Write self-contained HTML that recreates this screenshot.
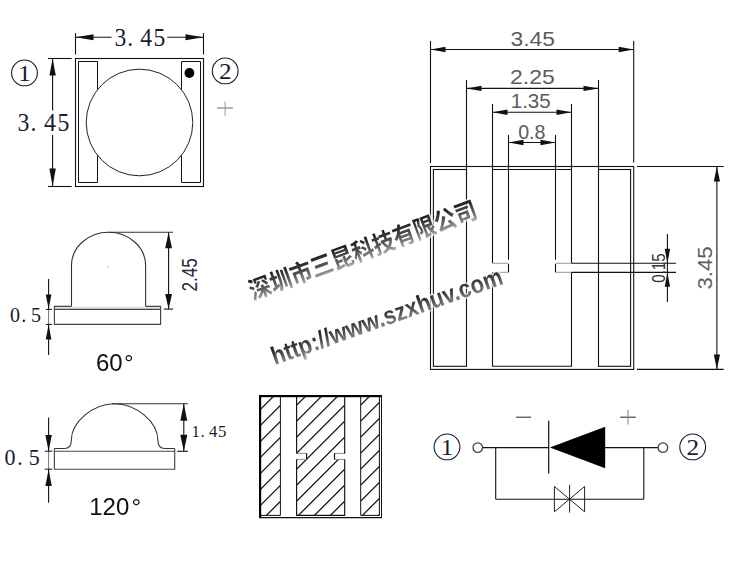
<!DOCTYPE html>
<html><head><meta charset="utf-8"><title>LED 3535 package drawing</title>
<style>
html,body{margin:0;padding:0;background:#fff;}
body{position:relative;width:753px;height:567px;overflow:hidden;font-family:"Liberation Sans",sans-serif;}
svg{display:block;position:absolute;left:0;top:0}
svg.wm{will-change:transform}
</style></head><body>
<svg width="753" height="567" viewBox="0 0 753 567">
<rect width="753" height="567" fill="#fff"/>
<rect x="75.5" y="58.5" width="128.0" height="128.0" fill="none" stroke="#111" stroke-width="1.1"/>
<path d="M97.5,89.7 L97.5,61.5 L78.5,61.5 L78.5,182.5 L97.5,182.5 L97.5,155.3" stroke="#111" stroke-width="1.0" fill="none" />
<path d="M181.5,89.7 L181.5,61.5 L200.5,61.5 L200.5,182.5 L181.5,182.5 L181.5,155.3" stroke="#111" stroke-width="1.0" fill="none" />
<circle cx="139.5" cy="122.5" r="53.3" fill="none" stroke="#222" stroke-width="1.0"/>
<circle cx="189.4" cy="73.0" r="4.9" fill="#000"/>
<line x1="75.5" y1="33" x2="75.5" y2="54.5" stroke="#111" stroke-width="1.1" />
<line x1="203.5" y1="33" x2="203.5" y2="54.5" stroke="#111" stroke-width="1.1" />
<line x1="75.5" y1="37.2" x2="111.6" y2="37.2" stroke="#111" stroke-width="1.1" />
<line x1="167.3" y1="37.2" x2="203.5" y2="37.2" stroke="#111" stroke-width="1.1" />
<polygon points="75.5,37.2 93.5,34.2 93.5,40.2" fill="#111"/>
<polygon points="203.5,37.2 185.5,40.2 185.5,34.2" fill="#111"/>
<line x1="48" y1="58.5" x2="71.7" y2="58.5" stroke="#111" stroke-width="1.1" />
<line x1="48" y1="186.5" x2="71.7" y2="186.5" stroke="#111" stroke-width="1.1" />
<line x1="52.6" y1="58.5" x2="52.6" y2="110.5" stroke="#111" stroke-width="1.1" />
<line x1="52.6" y1="135" x2="52.6" y2="186.5" stroke="#111" stroke-width="1.1" />
<polygon points="52.6,58.5 55.8,75.5 49.4,75.5" fill="#111"/>
<polygon points="52.6,186.5 49.4,168.5 55.8,168.5" fill="#111"/>
<line x1="217.1" y1="108.0" x2="232.9" y2="108.0" stroke="#666" stroke-width="1.0" />
<line x1="225.1" y1="101.5" x2="225.1" y2="115.8" stroke="#999" stroke-width="1.0" />
<path d="M71.5,306.3 L71.5,265.5 A37.05,33.2 0 0 1 145.6,265.5 L145.6,306.3" stroke="#333" stroke-width="1.1" fill="none" />
<rect x="54.4" y="306.4" width="106.2" height="3" fill="#e6e6e6"/>
<path d="M71.5,306.4 L54.4,306.4 L54.4,324.4 L160.6,324.4 L160.6,306.4 L145.6,306.4" stroke="#444" stroke-width="1.15" fill="none" />
<line x1="54.4" y1="309.4" x2="160.6" y2="309.4" stroke="#444" stroke-width="1.1" />
<rect x="107" y="266.5" width="1.2" height="1.2" fill="#aaa"/>
<line x1="108.5" y1="232.3" x2="173" y2="232.3" stroke="#333" stroke-width="1.1" />
<line x1="163.9" y1="309.1" x2="173" y2="309.1" stroke="#111" stroke-width="1.1" />
<line x1="168.6" y1="232.3" x2="168.6" y2="309.1" stroke="#111" stroke-width="1.1" />
<polygon points="168.6,232.3 172.0,248.3 165.2,248.3" fill="#111"/>
<polygon points="168.6,309.1 165.2,294.1 172.0,294.1" fill="#111"/>
<line x1="48.6" y1="279" x2="48.6" y2="309.4" stroke="#111" stroke-width="1.1" />
<line x1="48.6" y1="324.4" x2="48.6" y2="355" stroke="#111" stroke-width="1.1" />
<line x1="48.6" y1="309.4" x2="48.6" y2="324.4" stroke="#666" stroke-width="0.9" />
<line x1="45.9" y1="309.4" x2="52" y2="309.4" stroke="#111" stroke-width="1.0" />
<line x1="45.9" y1="324.4" x2="52" y2="324.4" stroke="#111" stroke-width="1.0" />
<polygon points="48.6,309.3 45.8,294.5 51.4,294.5" fill="#111"/>
<polygon points="48.6,324.5 51.4,339.5 45.8,339.5" fill="#111"/>
<path d="M54.4,448.5 L64.4,448.5 C68.8,448.5 71.3,445.6 71.3,440.3 C71.3,422.1 92.95,403.7 114.6,403.7 C136.25,403.7 157.9,422.1 157.9,440.3 C157.9,445.6 160.4,448.5 164.8,448.5 L174.7,448.5" stroke="#333" stroke-width="1.1" fill="none" />
<path d="M54.4,448.5 L54.4,469.2 L174.7,469.2 L174.7,448.5" stroke="#444" stroke-width="1.15" fill="none" />
<line x1="54.4" y1="451.2" x2="174.7" y2="451.2" stroke="#444" stroke-width="1.15" />
<line x1="112" y1="403.8" x2="188" y2="403.8" stroke="#333" stroke-width="1.1" />
<line x1="177.2" y1="451.3" x2="188" y2="451.3" stroke="#111" stroke-width="1.1" />
<line x1="183.8" y1="403.8" x2="183.8" y2="451.3" stroke="#111" stroke-width="1.1" />
<polygon points="183.8,403.8 187.3,420.8 180.3,420.8" fill="#111"/>
<polygon points="183.8,451.3 180.3,434.8 187.3,434.8" fill="#111"/>
<line x1="48.6" y1="417.4" x2="48.6" y2="451.2" stroke="#111" stroke-width="1.1" />
<line x1="48.6" y1="469.2" x2="48.6" y2="502.8" stroke="#111" stroke-width="1.1" />
<line x1="48.6" y1="451.2" x2="48.6" y2="469.2" stroke="#666" stroke-width="0.9" />
<line x1="44.8" y1="451.2" x2="52.3" y2="451.2" stroke="#111" stroke-width="1.0" />
<line x1="44.8" y1="469.2" x2="52.3" y2="469.2" stroke="#111" stroke-width="1.0" />
<polygon points="48.6,451.2 45.4,434.9 51.8,434.9" fill="#111"/>
<polygon points="48.6,469.2 51.8,485.9 45.4,485.9" fill="#111"/>
<defs><clipPath id="hc"><path d="M261,397 H280.4 V515.4 H261 Z M296.6,397 H344.7 V453.4 H334.5 V459.4 H344.7 V515.4 H296.6 V459.4 H306.6 V453.4 H296.6 Z M360.7,397 H379.4 V515.4 H360.7 Z"/></clipPath></defs>
<path d="M247.8,390 L117.8,520 M263.8,390 L133.8,520 M279.8,390 L149.8,520 M295.8,390 L165.8,520 M311.8,390 L181.8,520 M327.8,390 L197.8,520 M343.8,390 L213.8,520 M359.8,390 L229.8,520 M375.8,390 L245.8,520 M391.8,390 L261.8,520 M407.8,390 L277.8,520 M423.8,390 L293.8,520 M439.8,390 L309.8,520 M455.8,390 L325.8,520 M471.8,390 L341.8,520 M487.8,390 L357.8,520 M503.8,390 L373.8,520" stroke="#1a1a1a" stroke-width="1.3" fill="none" clip-path="url(#hc)"/>
<path d="M280.4,397 V515.4 H261" stroke="#111" stroke-width="1.0" fill="none" />
<path d="M296.6,453.4 H306.6 M296.6,459.4 H306.6 M334.5,453.4 H344.7 M334.5,459.4 H344.7" stroke="#8a8a8a" stroke-width="1.0" fill="none" />
<path d="M296.6,397 V453.6 M306.6,453.2 V459.6 M296.6,459.2 V515.4 H344.7 V459.2 M334.5,453.2 V459.6 M344.7,453.6 V397" stroke="#111" stroke-width="1.15" fill="none" />
<path d="M360.7,397 V515.4 H379.4 V397" stroke="#111" stroke-width="1.0" fill="none" />
<rect x="259" y="395" width="2.2" height="123" fill="#000"/>
<rect x="259" y="395" width="123" height="2.2" fill="#000"/>
<line x1="381.5" y1="395" x2="381.5" y2="518" stroke="#111" stroke-width="1.0" />
<line x1="259" y1="517.6" x2="382" y2="517.6" stroke="#111" stroke-width="1.1" />
<rect x="430.5" y="166.5" width="203.20000000000005" height="202.89999999999998" fill="none" stroke="#111" stroke-width="1.1"/>
<rect x="433.4" y="169.5" width="33.10000000000002" height="196.8" fill="none" stroke="#111" stroke-width="1.1"/>
<rect x="598.5" y="169.5" width="32.1" height="196.8" fill="none" stroke="#111" stroke-width="1.1"/>
<path d="M492.5,263.2 V169.5 H571.5 V263.2 M571.5,272.3 V366.3 H492.5 V272.3" stroke="#111" stroke-width="1.1" fill="none" />
<path d="M492.5,263.3 H508.5 M492.5,272.3 H508.5 M555.5,263.3 H571.5 M555.5,272.3 H571.5" stroke="#999" stroke-width="1.0" fill="none" />
<line x1="508.5" y1="263.9" x2="508.5" y2="272.3" stroke="#111" stroke-width="1.1" />
<line x1="555.5" y1="263.9" x2="555.5" y2="272.3" stroke="#111" stroke-width="1.1" />
<line x1="430.5" y1="41" x2="430.5" y2="163" stroke="#111" stroke-width="1.1" />
<line x1="633.7" y1="41" x2="633.7" y2="162.5" stroke="#111" stroke-width="1.1" />
<line x1="466.5" y1="80" x2="466.5" y2="169.5" stroke="#111" stroke-width="1.1" />
<line x1="598.5" y1="80" x2="598.5" y2="169.5" stroke="#111" stroke-width="1.1" />
<line x1="492.5" y1="104" x2="492.5" y2="169.5" stroke="#111" stroke-width="1.1" />
<line x1="571.5" y1="104" x2="571.5" y2="169.5" stroke="#111" stroke-width="1.1" />
<line x1="508.5" y1="135" x2="508.5" y2="259.8" stroke="#111" stroke-width="1.1" />
<line x1="555.5" y1="135" x2="555.5" y2="259.8" stroke="#111" stroke-width="1.1" />
<line x1="430.5" y1="49.5" x2="633.7" y2="49.5" stroke="#111" stroke-width="1.1" />
<polygon points="430.5,49.5 445.5,46.8 445.5,52.2" fill="#111"/>
<polygon points="633.7,49.5 618.7,52.2 618.7,46.8" fill="#111"/>
<line x1="466.5" y1="88.4" x2="598.5" y2="88.4" stroke="#111" stroke-width="1.1" />
<polygon points="466.5,88.4 481.5,85.7 481.5,91.1" fill="#111"/>
<polygon points="598.5,88.4 583.5,91.1 583.5,85.7" fill="#111"/>
<line x1="492.5" y1="112.2" x2="571.5" y2="112.2" stroke="#111" stroke-width="1.1" />
<polygon points="492.5,112.2 507.5,109.5 507.5,114.9" fill="#111"/>
<polygon points="571.5,112.2 556.5,114.9 556.5,109.5" fill="#111"/>
<line x1="508.5" y1="142.5" x2="555.5" y2="142.5" stroke="#111" stroke-width="1.1" />
<polygon points="508.5,142.5 523.5,139.8 523.5,145.2" fill="#111"/>
<polygon points="555.5,142.5 540.5,145.2 540.5,139.8" fill="#111"/>
<line x1="637" y1="166.5" x2="723.7" y2="166.5" stroke="#111" stroke-width="1.1" />
<line x1="637" y1="369.4" x2="723.7" y2="369.4" stroke="#111" stroke-width="1.1" />
<line x1="716.9" y1="166.5" x2="716.9" y2="369.4" stroke="#111" stroke-width="1.1" />
<polygon points="716.9,166.5 720.0,181.5 713.8,181.5" fill="#111"/>
<polygon points="716.9,369.4 713.8,354.4 720.0,354.4" fill="#111"/>
<line x1="571.5" y1="263.3" x2="676" y2="263.3" stroke="#111" stroke-width="1.1" />
<line x1="571.5" y1="272.4" x2="676" y2="272.4" stroke="#111" stroke-width="1.1" />
<line x1="667.4" y1="234" x2="667.4" y2="302" stroke="#111" stroke-width="1.1" />
<polygon points="667.4,263.3 664.7,248.8 670.1,248.8" fill="#111"/>
<polygon points="667.4,272.4 670.1,286.7 664.7,286.7" fill="#111"/>
<text x="510.5" y="45.6" font-family="Liberation Sans, sans-serif" font-size="20.5" fill="#5c5c5c" textLength="44.4" lengthAdjust="spacingAndGlyphs">3.45</text>
<text x="510" y="84.3" font-family="Liberation Sans, sans-serif" font-size="19.8" fill="#5c5c5c" textLength="44.8" lengthAdjust="spacingAndGlyphs">2.25</text>
<text x="510.7" y="108.3" font-family="Liberation Sans, sans-serif" font-size="19.3" fill="#5c5c5c" textLength="40.1" lengthAdjust="spacingAndGlyphs">1.35</text>
<text x="518.2" y="138.6" font-family="Liberation Sans, sans-serif" font-size="20" fill="#5c5c5c" textLength="27.3" lengthAdjust="spacingAndGlyphs">0.8</text>
<text transform="translate(712.15,289.55) rotate(-90)" font-family="Liberation Sans, sans-serif" font-size="20.5" fill="#5c5c5c" textLength="43.2" lengthAdjust="spacingAndGlyphs">3.45</text>
<text transform="translate(664.85,282.75) rotate(-90)" font-family="Liberation Sans, sans-serif" font-size="17.5" fill="#333" textLength="29.4" lengthAdjust="spacingAndGlyphs">0.15</text>
<line x1="483.0" y1="447.6" x2="549" y2="447.6" stroke="#111" stroke-width="1.1" />
<line x1="605" y1="447.6" x2="658" y2="447.6" stroke="#111" stroke-width="1.1" />
<line x1="495.7" y1="447.6" x2="495.7" y2="499.3" stroke="#111" stroke-width="1.1" />
<line x1="643.8" y1="447.6" x2="643.8" y2="499.3" stroke="#111" stroke-width="1.1" />
<line x1="495.7" y1="499.3" x2="643.8" y2="499.3" stroke="#111" stroke-width="1.1" />
<line x1="548.7" y1="420.7" x2="548.7" y2="473.5" stroke="#111" stroke-width="1.2" />
<polygon points="549.9,447.6 605.2,426.8 605.2,468.2" fill="#000"/>
<circle cx="477.8" cy="447.6" r="4.8" fill="#fff" stroke="#444" stroke-width="1.3"/>
<circle cx="662.9" cy="447.6" r="4.8" fill="#fff" stroke="#444" stroke-width="1.3"/>
<path d="M554.4,486.5 V511.8 L584.6,486.5 V511.8 Z" stroke="#222" stroke-width="1.0" fill="none" />
<line x1="569.6" y1="484.8" x2="569.6" y2="512.6" stroke="#222" stroke-width="1.0" />
<line x1="516" y1="417.2" x2="531" y2="417.2" stroke="#222" stroke-width="1.0" />
<line x1="620.2" y1="417.2" x2="635.8" y2="417.2" stroke="#222" stroke-width="1.0" />
<line x1="628" y1="409.9" x2="628" y2="424.5" stroke="#888" stroke-width="1.1" />
<text transform="translate(114.4,46.2) scale(1,1.04)" font-family="Liberation Serif, serif" font-size="23.6" fill="#1a1a30">3</text>
<text transform="translate(127.2,46.2) scale(1,1.04)" font-family="Liberation Serif, serif" font-size="23.6" fill="#1a1a30">.</text>
<text transform="translate(140.2,46.2) scale(1,1.04)" font-family="Liberation Serif, serif" font-size="23.6" fill="#1a1a30">4</text>
<text transform="translate(153.4,46.2) scale(1,1.04)" font-family="Liberation Serif, serif" font-size="23.6" fill="#1a1a30">5</text>
<text transform="translate(17.4,130.7) scale(1,1.08)" font-family="Liberation Serif, serif" font-size="23.8" fill="#1a1a30">3</text>
<text transform="translate(30.6,130.7) scale(1,1.08)" font-family="Liberation Serif, serif" font-size="23.8" fill="#1a1a30">.</text>
<text transform="translate(43.9,130.7) scale(1,1.08)" font-family="Liberation Serif, serif" font-size="23.8" fill="#1a1a30">4</text>
<text transform="translate(57.6,130.7) scale(1,1.08)" font-family="Liberation Serif, serif" font-size="23.8" fill="#1a1a30">5</text>
<text transform="translate(10.0,322.0) scale(1,1.0)" font-family="Liberation Serif, serif" font-size="20" fill="#1a1a30">0</text>
<text transform="translate(21.2,322.0) scale(1,1.0)" font-family="Liberation Serif, serif" font-size="20" fill="#1a1a30">.</text>
<text transform="translate(31.0,322.0) scale(1,1.0)" font-family="Liberation Serif, serif" font-size="20" fill="#1a1a30">5</text>
<text transform="translate(4.5,465.0) scale(1,1.03)" font-family="Liberation Serif, serif" font-size="22" fill="#1a1a30">0</text>
<text transform="translate(17.2,465.0) scale(1,1.03)" font-family="Liberation Serif, serif" font-size="22" fill="#1a1a30">.</text>
<text transform="translate(28.7,465.0) scale(1,1.03)" font-family="Liberation Serif, serif" font-size="22" fill="#1a1a30">5</text>
<text transform="translate(191.6,436.5) scale(1,1.0)" font-family="Liberation Serif, serif" font-size="16.7" fill="#1a1a30">1</text>
<text transform="translate(200.4,436.5) scale(1,1.0)" font-family="Liberation Serif, serif" font-size="16.7" fill="#1a1a30">.</text>
<text transform="translate(209.0,436.5) scale(1,1.0)" font-family="Liberation Serif, serif" font-size="16.7" fill="#1a1a30">4</text>
<text transform="translate(218.0,436.5) scale(1,1.0)" font-family="Liberation Serif, serif" font-size="16.7" fill="#1a1a30">5</text>
<text transform="translate(197.1,291.6) rotate(-90) scale(0.78,1)" font-family="Liberation Sans, sans-serif" font-size="22" fill="#2a2a3a">2.45</text>
<circle cx="24.5" cy="72.9" r="12.9" fill="none" stroke="#1a1a30" stroke-width="1.1"/>
<text transform="translate(24.5,81.2) scale(1.12,1)" text-anchor="middle" font-family="Liberation Serif, serif" font-size="22.5" fill="#1a1a30">1</text>
<circle cx="225.2" cy="70.9" r="12.9" fill="none" stroke="#1a1a30" stroke-width="1.1"/>
<text transform="translate(225.2,79.2) scale(1.12,1)" text-anchor="middle" font-family="Liberation Serif, serif" font-size="22.5" fill="#1a1a30">2</text>
<circle cx="447" cy="446.9" r="12.9" fill="none" stroke="#1a1a30" stroke-width="1.1"/>
<text transform="translate(447,455.2) scale(1.12,1)" text-anchor="middle" font-family="Liberation Serif, serif" font-size="22.5" fill="#1a1a30">1</text>
<circle cx="692.7" cy="446.9" r="12.9" fill="none" stroke="#1a1a30" stroke-width="1.1"/>
<text transform="translate(692.7,455.2) scale(1.12,1)" text-anchor="middle" font-family="Liberation Serif, serif" font-size="22.5" fill="#1a1a30">2</text>
</svg>
<svg class="wm" width="753" height="567" viewBox="0 0 753 567">
<text x="96.0" y="371.0" font-family="Liberation Sans, sans-serif" font-size="24" fill="#111">60<tspan dx="1.2">°</tspan></text>
<text x="89.2" y="515.4" font-family="Liberation Sans, sans-serif" font-size="24" fill="#111">120<tspan dx="2.2">°</tspan></text>
<defs><linearGradient id="wg" gradientUnits="userSpaceOnUse" x1="0" y1="-86" x2="0" y2="10"><stop offset="0" stop-color="#181818"/><stop offset="0.5" stop-color="#525252"/><stop offset="0.85" stop-color="#8e8e8e"/><stop offset="1" stop-color="#c4c4c4"/></linearGradient><linearGradient id="wt" gradientUnits="userSpaceOnUse" x1="0" y1="-19" x2="0" y2="5"><stop offset="0" stop-color="#181818"/><stop offset="0.5" stop-color="#525252"/><stop offset="0.85" stop-color="#8e8e8e"/><stop offset="1" stop-color="#c4c4c4"/></linearGradient></defs>
<g transform="translate(252.9,300.3) rotate(-20.2) scale(0.2190,0.2475)" fill="none" stroke="#fff" stroke-opacity="0.75" stroke-width="14" stroke-linejoin="round"><text x="0" y="0" font-family="Liberation Sans, Noto Sans CJK SC, sans-serif" font-weight="bold" font-size="100" textLength="1100" lengthAdjust="spacing">深圳市三昆科技有限公司</text></g>
<g transform="translate(252.9,300.3) rotate(-20.2) scale(0.2190,0.2475)" fill="url(#wg)"><text x="0" y="0" font-family="Liberation Sans, Noto Sans CJK SC, sans-serif" font-weight="bold" font-size="100" textLength="1100" lengthAdjust="spacing">深圳市三昆科技有限公司</text></g>
<text transform="translate(274.7,365.1) rotate(-19.5) scale(0.880,1)" font-family="Liberation Sans, sans-serif" font-weight="bold" font-size="25.2" fill="none" stroke="#fff" stroke-opacity="0.75" stroke-width="3" stroke-linejoin="round">http://www.szxhuv.com</text>
<text transform="translate(274.7,365.1) rotate(-19.5) scale(0.880,1)" font-family="Liberation Sans, sans-serif" font-weight="bold" font-size="25.2" fill="url(#wt)">http://www.szxhuv.com</text>
</svg>
</body></html>
